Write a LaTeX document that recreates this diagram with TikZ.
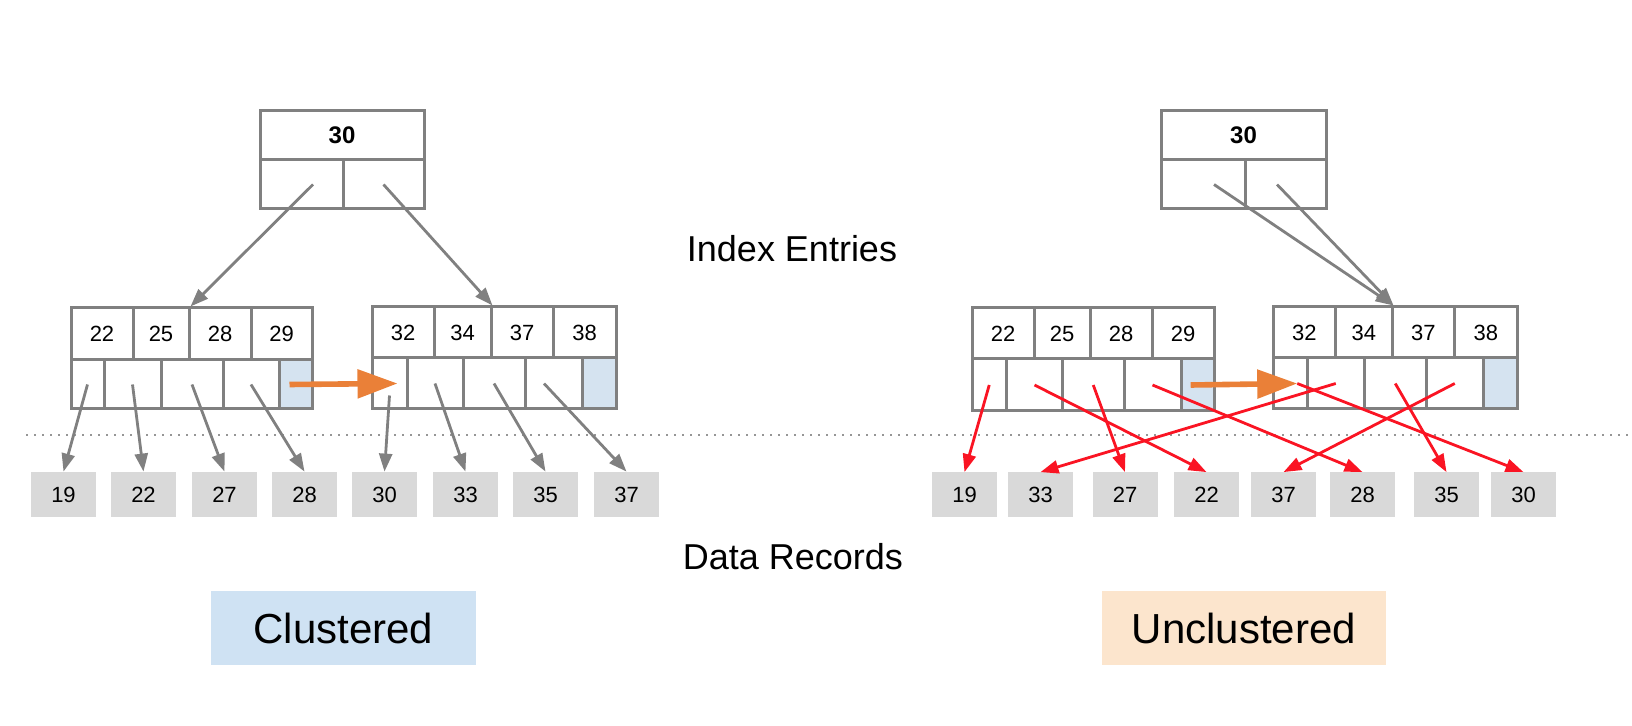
\documentclass[tikz,border=0pt]{standalone}
\usepackage{fontspec}
\setmainfont{Liberation Sans}
\usetikzlibrary{arrows.meta}

\definecolor{linegray}{RGB}{128,128,128}
\definecolor{dotgray}{RGB}{150,150,150}
\definecolor{cellblue}{RGB}{213,227,240}
\definecolor{recgray}{RGB}{217,217,217}
\definecolor{nextorange}{RGB}{234,128,56}
\definecolor{ptrred}{RGB}{250,20,35}
\definecolor{clublue}{RGB}{207,226,243}
\definecolor{unclpeach}{RGB}{252,229,205}

\tikzset{
  cell/.style={draw=linegray, line width=1.5pt, inner sep=0pt, font=\fontsize{11}{13}\selectfont},
  rec/.style={fill=recgray, inner sep=0pt, minimum width=32.5pt, minimum height=22.5pt, font=\fontsize{11}{13}\selectfont},
  ptr/.style={draw=linegray, line width=1.4pt, -{Triangle[length=9pt,width=6.5pt]}},
  redptr/.style={draw=ptrred, line width=1.4pt, -{Triangle[length=9pt,width=6.5pt]}},
  nextptr/.style={draw=nextorange, line width=2.8pt, -{Triangle[length=20pt,width=14pt]}},
  title/.style={font=\fontsize{18}{22}\selectfont},
  tag/.style={inner sep=0pt, minimum height=37pt, font=\fontsize{21}{25}\selectfont},
}

\begin{document}
\begin{tikzpicture}[x=0.5pt, y=-0.5pt]
    \useasboundingbox (0,0) rectangle (1632,726);

    % 分隔线
    \draw[dotgray, line width=0.6pt, dash pattern=on 1pt off 3pt] (26,435) -- (1632,435);

    % ===== Clustered =====
    % 根节点
    \node[cell, minimum width=82pt, minimum height=24.5pt, font=\fontsize{12}{14}\selectfont\bfseries] (croot) at (342,135.5) {30};
    \node[cell, minimum width=41.5pt, minimum height=24.5pt] (crootL) at (301.5,184.5) {};
    \node[cell, minimum width=40.5pt, minimum height=24.5pt] (crootR) at (383.5,184.5) {};

    % 叶节点 A
    \foreach \a/\b/\t [count=\i] in {71/133/22, 133/189/25, 189/251/28, 251/312/29}
        \node[cell, minimum width={(\b-\a)*0.5pt}, minimum height=26pt] (cAk\i) at ({(\a+\b)/2},334) {\t};
    \foreach \a/\b [count=\i] in {71/104, 104/161, 161/223, 223/279, 279/312}
        \node[cell, minimum width={(\b-\a)*0.5pt}, minimum height=24.5pt] (cAp\i) at ({(\a+\b)/2},384.5) {};
    \node[cell, fill=cellblue, minimum width=16.5pt, minimum height=24.5pt] at (cAp5) {};

    % 叶节点 B
    \foreach \a/\b/\t [count=\i] in {372/434/32, 434/491/34, 491/553/37, 553/616/38}
        \node[cell, minimum width={(\b-\a)*0.5pt}, minimum height=25.5pt] (cBk\i) at ({(\a+\b)/2},332.5) {\t};
    \foreach \a/\b [count=\i] in {372/407, 407/463, 463/525, 525/582, 582/616}
        \node[cell, minimum width={(\b-\a)*0.5pt}, minimum height=25.5pt] (cBp\i) at ({(\a+\b)/2},383.5) {};
    \node[cell, fill=cellblue, minimum width=17pt, minimum height=25.5pt] at (cBp5) {};

    % 数据记录
    \foreach \x/\t [count=\i] in {31/19, 111/22, 192/27, 272/28, 352/30, 433/33, 513/35, 594/37}
        \node[rec] (cd\i) at (\x+32.5,494.5) {\t};

    % 指针
    \draw[ptr] ([xshift=5.75pt]crootL.center) -- (cAk2.north east);
    \draw[ptr] (crootR.center) -- (cBk2.north east);
    \foreach \i in {1,...,4}
        \draw[ptr] (cAp\i.center) -- (cd\i.north);
    \draw[ptr] ([yshift=-6pt]cBp1.center) -- (cd5.north);
    \draw[ptr] (cBp2.center) -- (cd6.north);
    \draw[ptr] (cBp3.center) -- (cd7.north);
    \draw[ptr] ([xshift=-4.75pt]cBp4.center) -- (cd8.north);
    \draw[nextptr] ([xshift=-3pt]cAp5.center) -- ([xshift=4pt]cBp1.center);

    % ===== Unclustered =====
    % 根节点
    \node[cell, minimum width=82.5pt, minimum height=24.5pt, font=\fontsize{12}{14}\selectfont\bfseries] (uroot) at (1243.5,135.5) {30};
    \node[cell, minimum width=42pt, minimum height=24.5pt] (urootL) at (1203,184.5) {};
    \node[cell, minimum width=40.5pt, minimum height=24.5pt] (urootR) at (1285.5,184.5) {};

    % 叶节点 A
    \foreach \a/\b/\t [count=\i] in {972/1034/22, 1034/1090/25, 1090/1152/28, 1152/1214/29}
        \node[cell, minimum width={(\b-\a)*0.5pt}, minimum height=25.5pt] (uAk\i) at ({(\a+\b)/2},333.5) {\t};
    \foreach \a/\b [count=\i] in {972/1006.5, 1006.5/1062.5, 1062.5/1124, 1124/1181, 1181/1214}
        \node[cell, minimum width={(\b-\a)*0.5pt}, minimum height=26pt] (uAp\i) at ({(\a+\b)/2},385) {};
    \node[cell, fill=cellblue, minimum width=16.5pt, minimum height=26pt] at (uAp5) {};

    % 叶节点 B
    \foreach \a/\b/\t [count=\i] in {1273/1335.5/32, 1335.5/1392/34, 1392/1454.5/37, 1454.5/1517/38}
        \node[cell, minimum width={(\b-\a)*0.5pt}, minimum height=25.5pt] (uBk\i) at ({(\a+\b)/2},332.5) {\t};
    \foreach \a/\b [count=\i] in {1273/1307.5, 1307.5/1364, 1364/1426.5, 1426.5/1483, 1483/1517}
        \node[cell, minimum width={(\b-\a)*0.5pt}, minimum height=25.5pt] (uBp\i) at ({(\a+\b)/2},383.5) {};
    \node[cell, fill=cellblue, minimum width=17pt, minimum height=25.5pt] at (uBp5) {};

    % 数据记录
    \foreach \x/\t [count=\i] in {932/19, 1008/33, 1092.5/27, 1174/22, 1251/37, 1330/28, 1414/35, 1491/30}
        \node[rec] (ud\i) at (\x+32.5,495) {\t};

    % 指针
    \draw[ptr] ([xshift=5.5pt]urootL.center) -- (uBk2.north east);
    \draw[ptr] ([xshift=-4.25pt]urootR.center) -- (uBk2.north east);
    \draw[redptr] (uAp1.center) -- (ud1.north);
    \draw[redptr] (uAp2.center) -- (ud4.north);
    \draw[redptr] (uAp3.center) -- (ud3.north);
    \draw[redptr] (uAp4.center) -- (ud6.north);
    \draw[redptr] ([xshift=3.5pt]uBp1.center) -- (ud8.north);
    \draw[redptr] (uBp2.center) -- (ud2.north);
    \draw[redptr] (uBp3.center) -- (ud7.north);
    \draw[redptr] (uBp4.center) -- (ud5.north);
    \draw[nextptr] ([xshift=-3.4pt]uAp5.center) -- ([xshift=3.5pt]uBp1.center);

    % 标题
    \node[title] (idx) at (792,249) {Index Entries};
    \node[title] (drec) at (793,557) {Data Records};
    \node[tag, fill=clublue, minimum width=132.5pt] (clu) at (343.5,628) {Clustered};
    \node[tag, fill=unclpeach, minimum width=142pt] (unclu) at (1244,628) {Unclustered};
\end{tikzpicture}
\end{document}
